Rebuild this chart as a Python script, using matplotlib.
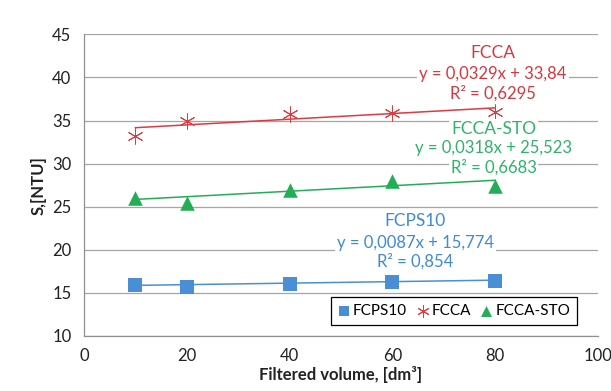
import matplotlib
matplotlib.use("Agg")
import matplotlib.pyplot as plt
import numpy as np

plt.rcParams['font.family'] = ['Lato', 'DejaVu Sans']

x_vals = [10, 20, 40, 60, 80]
fcps10 = [15.87, 15.72, 15.99, 16.2, 16.4]
fcca = [33.2, 35.0, 35.8, 35.85, 35.95]
fcca_sto = [26.0, 25.4, 26.95, 28.0, 27.45]

series_names = ["FCPS10", "FCCA", "FCCA-STO"]
slopes = [0.0087, 0.0329, 0.0318]
intercepts = [15.774, 33.84, 25.523]
eq_texts = ["y = 0,0087x + 15,774", "y = 0,0329x + 33,84", "y = 0,0318x + 25,523"]
r2_texts = ["R² = 0,854", "R² = 0,6295", "R² = 0,6683"]

x_ticks = [0, 20, 40, 60, 80, 100]
y_ticks = [10, 15, 20, 25, 30, 35, 40, 45]

c_blue = '#4A8FD6'
c_red = '#E0393E'
c_green = '#22AE55'
t_blue = '#3F8AD6'
t_red = '#D9363E'
t_green = '#2DB36A'

fig = plt.figure(figsize=(6.11, 3.91), dpi=100)
ax = fig.add_axes([0.1375, 0.141, 0.841, 0.771])

ax.set_xlim(0, 100)
ax.set_ylim(10, 45)
ax.set_xticks(x_ticks)
ax.set_yticks(y_ticks)
ax.tick_params(length=0, labelsize=12, pad=9, colors='#222222')
ax.grid(axis='y', color='#A6A6A6', linewidth=0.9)
ax.set_axisbelow(True)
for s in ['top', 'right']:
    ax.spines[s].set_visible(False)
for s in ['left', 'bottom']:
    ax.spines[s].set_color('#909090')
    ax.spines[s].set_linewidth(0.9)

data = [fcps10, fcca, fcca_sto]
colors = [c_blue, c_red, c_green]
markers = ['s', 'x', '^']
handles = []
xs = np.array([10, 80])
for d, c, m, k, b, name in zip(data, colors, markers, slopes, intercepts, series_names):
    ax.plot(xs, k * xs + b, color=c, linewidth=1.1, zorder=2)
    if m == 'x':
        h = ax.scatter(x_vals, d, marker=(6, 2, 0), s=120, color=c, linewidths=0.7, zorder=3, label=name)
    else:
        h = ax.scatter(x_vals, d, marker=m, s=110, color=c, linewidths=0, zorder=3, label=name)
    handles.append(h)

# labels
label_pos = [(64.5, 23.3, 20.8, 18.6), (79.6, 42.8, 40.4, 38.2), (79.7, 34.0, 31.85, 29.6)]
tcols = [t_blue, t_red, t_green]
for (lx, y1, y2, y3), tc, name, eq, r2 in zip(label_pos, tcols, series_names, eq_texts, r2_texts):
    bb = dict(facecolor='white', edgecolor='none', pad=1.5)
    ax.text(lx, y1, name, color=tc, fontsize=12.5, ha='center', va='center', bbox=bb, zorder=4)
    ax.text(lx, y2, eq, color=tc, fontsize=12, ha='center', va='center', bbox=bb, zorder=4)
    ax.text(lx, y3, r2, color=tc, fontsize=12, ha='center', va='center', bbox=bb, zorder=4)

leg = ax.legend(handles=handles, loc='lower right', bbox_to_anchor=(0.975, 0.01), ncol=3,
                fontsize=11, frameon=True, fancybox=False, framealpha=1,
                handlelength=0.8, handletextpad=0.2, columnspacing=0.6,
                borderpad=0.45, markerscale=0.75)
leg.get_frame().set_edgecolor('black')
leg.get_frame().set_linewidth(0.9)

ax.set_xlabel("Filtered volume, [dm³]", fontsize=12, fontweight='bold', labelpad=1, color='#222222')
ax.set_ylabel("S,[NTU]", fontsize=12, fontweight='bold', labelpad=4, color='#222222')

fig.savefig("out.png", dpi=100)
